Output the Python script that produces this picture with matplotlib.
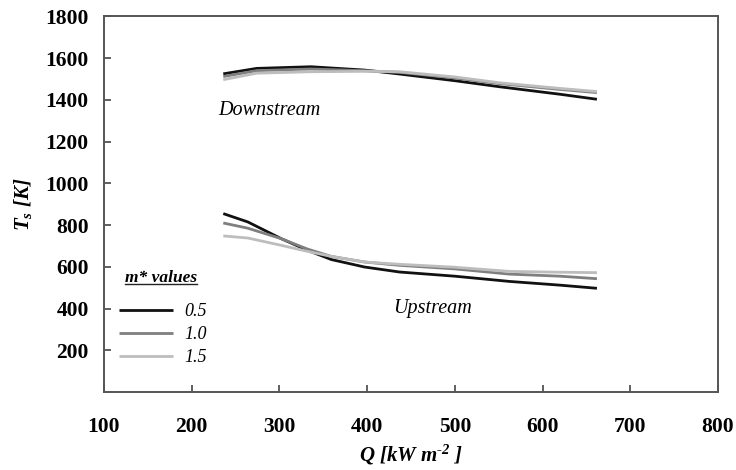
import matplotlib
matplotlib.use("Agg")
import matplotlib.pyplot as plt
from matplotlib.lines import Line2D

plt.rcParams['font.family'] = ['Liberation Serif', 'DejaVu Serif']
plt.rcParams['mathtext.fontset'] = 'custom'
plt.rcParams['mathtext.it'] = 'Liberation Serif:italic:bold'
plt.rcParams['mathtext.rm'] = 'Liberation Serif:italic:bold'
plt.rcParams['mathtext.bf'] = 'Liberation Serif:italic:bold'

# ---- data ----
series_labels = ["0.5", "1.0", "1.5"]
series_colors = ["#111111", "#7f7f7f", "#bdbdbd"]

q_down = [236, 274, 336, 397, 437, 500, 551, 620, 662]
down_05 = [1525, 1551, 1559, 1543, 1524, 1492, 1463, 1427, 1403]
down_10 = [1512, 1540, 1548, 1540, 1532, 1505, 1478, 1450, 1435]
down_15 = [1497, 1528, 1535, 1537, 1535, 1510, 1482, 1455, 1440]

q_up = [236, 264, 302, 332, 359, 397, 437, 500, 562, 620, 662]
up_05 = [855, 815, 735, 679, 635, 599, 575, 555, 530, 512, 497]
up_10 = [810, 785, 735, 685, 650, 623, 607, 590, 565, 555, 543]
up_15 = [748, 738, 703, 674, 650, 623, 612, 598, 578, 574, 572]

x_ticks = [100, 200, 300, 400, 500, 600, 700, 800]
y_ticks = [200, 400, 600, 800, 1000, 1200, 1400, 1600, 1800]

fig = plt.figure(figsize=(7.36, 4.70), dpi=100)
ax = fig.add_axes([0.1413, 0.166, 0.8342, 0.799])

down = [down_05, down_10, down_15]
up = [up_05, up_10, up_15]
handles = []
for lab, col, d, u in zip(series_labels, series_colors, down, up):
    h, = ax.plot(q_down, d, color=col, lw=2.0, solid_capstyle='butt', label=lab)
    ax.plot(q_up, u, color=col, lw=2.0, solid_capstyle='butt')
    handles.append(h)

ax.set_xlim(100, 800)
ax.set_ylim(0, 1800)
ax.set_xticks(x_ticks)
ax.set_yticks(y_ticks)
ax.set_xticklabels([str(v) for v in x_ticks], fontsize=15.5, fontweight='bold')
ax.set_yticklabels([str(v) for v in y_ticks], fontsize=15.5, fontweight='bold')
ax.tick_params(axis='x', direction='in', length=5, width=1.2, color='#444444', pad=18)
ax.tick_params(axis='y', direction='in', length=5, width=1.2, color='#444444', pad=11)
for s in ax.spines.values():
    s.set_color('#555555')
    s.set_linewidth(1.4)

ax.set_xlabel(r'Q [kW m$^{\text{-2}}$ ]', fontsize=15, fontweight='bold', fontstyle='italic', labelpad=4)
ax.set_ylabel(r'$T_s$ [K]', fontsize=15, fontweight='bold', fontstyle='italic', labelpad=8)

ax.text(289, 1351, 'Downstream', fontsize=14.5, fontstyle='italic', ha='center', va='center')
ax.text(474, 401, 'Upstream', fontsize=14.5, fontstyle='italic', ha='center', va='center')

leg = ax.legend(handles=handles, loc='upper left', bbox_to_anchor=(-0.002, 0.28),
                frameon=False, handlelength=3.0, labelspacing=0.33, handletextpad=0.6,
                prop={'size': 13, 'style': 'italic'})
for lh in leg.get_lines():
    lh.set_linewidth(2.0)

title = ax.text(0.093, 0.303, 'm* values', transform=ax.transAxes, ha='center', va='center',
                fontsize=12.5, fontstyle='italic', fontweight='bold')

fig.canvas.draw()
tb = title.get_window_extent()
inv = fig.transFigure.inverted()
(x0, y0), (x1, y1) = inv.transform([(tb.x0, tb.y0), (tb.x1, tb.y1)])
fig.add_artist(Line2D([x0, x1], [y0 + 0.004, y0 + 0.004], transform=fig.transFigure,
                      color='#222222', lw=1.0))

fig.savefig('out.png', dpi=100)
